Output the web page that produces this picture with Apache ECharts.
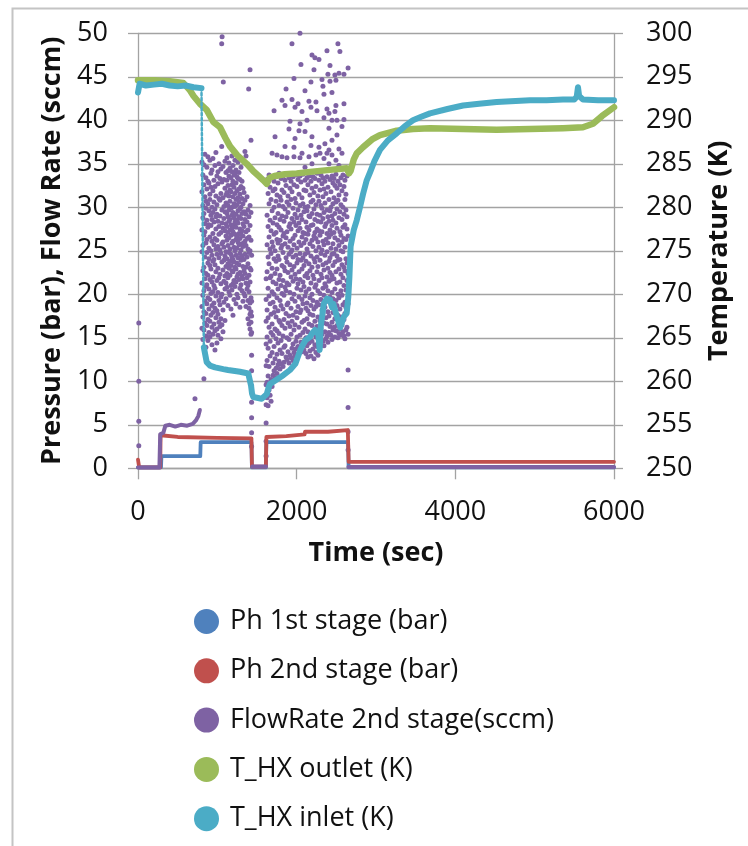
<!DOCTYPE html>
<html>
<head>
<meta charset="utf-8">
<script src="https://cdn.jsdelivr.net/npm/echarts@6/dist/echarts.min.js"></script>
<style>
  html, body { margin: 0; padding: 0; background: #ffffff; }
  #chart { width: 748px; height: 846px; }
</style>
</head>
<body>
<div id="chart"></div>
<script>
// ---- Series names ----
const seriesNames = [
  'Ph 1st stage (bar)',
  'Ph 2nd stage (bar)',
  'FlowRate 2nd stage(sccm)',
  'T_HX outlet (K)',
  'T_HX inlet (K)'
];

// ---- Pressure traces [time s, bar] ----
const ph1stStage = [
  [0, 0.1], [290, 0.1], [295, 1.4], [785, 1.4], [790, 3.0], [1430, 3.0], [1436, 0.1],
  [1612, 0.1], [1618, 3.0], [2648, 3.0], [2655, 0.1], [6000, 0.1]
];
const ph2ndStage = [
  [0, 1.0], [15, 0.1], [280, 0.1], [285, 3.8], [500, 3.6], [1000, 3.5], [1430, 3.45],
  [1436, 0.2], [1612, 0.2], [1618, 3.6], [1870, 3.7], [1875, 3.9], [2100, 3.9],
  [2105, 4.2], [2395, 4.2], [2400, 4.4], [2645, 4.4], [2655, 0.75], [6000, 0.75]
];

// ---- Flow rate, steady stretches [time s, sccm] ----
const flowSteadyA = [
  [0, 0.1], [270, 0.1], [280, 3.9], [320, 4.1], [345, 4.9], [400, 5.0], [470, 4.8],
  [540, 5.0], [620, 4.9], [690, 5.1], [730, 5.5], [760, 6.0], [780, 6.7]
];
const flowSteadyB = [[1440, 0.2], [1612, 0.2]];
const flowSteadyC = [[2652, 0.15], [6000, 0.15]];

// ---- Flow rate, unsteady stretches: [time s, [sccm readings]] ----
const flowBurstFirst = [
  [806, [35.2, 31.8, 27.4, 24.9, 21.3, 18.6, 16.1]],
  [818, [33.7, 30.2, 28.8, 25.6, 22.7, 19.9, 17.4, 14.8]],
  [831, [34.9, 32.6, 29.3, 26.8, 23.1, 20.4, 18.0, 15.9, 10.3]],
  [843, [36.1, 31.2, 28.1, 27.2, 24.3, 21.8, 19.2, 16.7]],
  [856, [33.4, 30.7, 29.9, 25.9, 22.4, 20.9, 17.8, 15.2, 13.9]],
  [868, [34.6, 32.1, 28.5, 26.3, 24.8, 21.1, 18.9, 16.4]],
  [881, [35.8, 33.0, 30.4, 27.7, 23.6, 22.2, 19.6, 17.1, 14.7]],
  [894, [32.8, 29.6, 28.0, 25.3, 24.1, 20.6, 18.3, 15.6]],
  [906, [35.4, 31.5, 30.9, 26.6, 23.3, 21.7, 19.4, 16.9, 15.1]],
  [919, [33.9, 32.3, 29.1, 27.9, 25.0, 22.9, 20.1, 17.6]],
  [932, [34.3, 30.0, 28.6, 26.1, 24.5, 21.4, 18.7, 16.2, 14.2]],
  [944, [35.6, 31.9, 29.4, 27.0, 23.8, 22.0, 20.3, 17.9, 15.4]],
  [957, [33.1, 30.6, 28.3, 25.7, 24.0, 21.0, 19.0, 16.6]],
  [970, [34.8, 32.4, 29.8, 26.4, 23.4, 20.7, 18.4, 15.8, 13.6]],
  [982, [36.3, 31.3, 28.9, 27.5, 25.2, 22.6, 19.8, 17.3]],
  [995, [33.6, 30.3, 29.2, 26.2, 24.6, 21.6, 18.1, 16.0, 14.4]],
  [1008, [34.1, 32.7, 28.4, 25.5, 23.0, 20.2, 17.7, 15.3]],
  [1020, [35.0, 31.0, 27.8, 26.9, 24.2, 21.9, 19.3, 16.8]],
  [1033, [33.3, 30.8, 29.0, 25.1, 22.3, 18.8, 16.3]],
  [1045, [34.4, 31.6, 27.1, 24.7, 21.2, 19.7, 17.2, 14.9]],
  [1058, [32.9, 29.7, 28.2, 25.8, 23.7, 20.0, 16.5]],
  [1071, [34.7, 31.1, 27.6, 26.0, 22.8, 18.2, 15.7]],
  [1083, [33.2, 30.1, 28.7, 25.4, 23.9, 21.5, 19.1]],
  [1096, [35.3, 32.2, 29.5, 27.3, 24.4, 22.1, 20.6, 17.0]],
  [1109, [34.0, 31.4, 30.5, 28.1, 26.7, 24.9, 23.2, 21.3, 19.5]],
  [1121, [35.7, 33.1, 31.7, 29.3, 27.8, 26.2, 24.1, 22.4, 20.8]],
  [1134, [34.2, 32.5, 30.2, 28.9, 27.1, 25.6, 23.5, 21.9, 18.7]],
  [1146, [35.1, 33.6, 31.3, 29.7, 28.4, 26.5, 24.8, 23.0, 20.3]],
  [1159, [34.5, 32.0, 30.7, 28.6, 27.4, 25.2, 23.8, 22.2, 19.9]],
  [1172, [33.4, 31.8, 29.9, 28.0, 26.8, 24.6, 23.3, 21.0, 18.3]],
  [1184, [35.9, 34.1, 32.6, 30.0, 29.1, 27.6, 25.9, 24.3, 22.7, 20.5]],
  [1197, [34.8, 33.0, 31.2, 29.4, 27.2, 26.1, 24.0, 22.6, 21.2, 17.6]],
  [1210, [33.7, 32.3, 30.4, 28.8, 27.9, 25.4, 23.7, 21.6, 19.4]],
  [1222, [35.4, 33.9, 31.6, 30.1, 28.3, 26.9, 25.0, 23.1, 20.9]],
  [1235, [34.3, 32.8, 30.9, 29.2, 27.7, 26.3, 24.5, 22.9, 21.4, 18.9]],
  [1247, [33.5, 31.9, 30.3, 28.5, 26.6, 25.3, 23.6, 22.0, 20.0]],
  [1260, [35.2, 33.3, 31.1, 29.6, 28.2, 26.0, 24.2, 22.3, 19.6]],
  [1273, [34.0, 32.1, 30.6, 28.9, 27.0, 25.7, 23.4, 21.7]],
  [1285, [33.2, 31.5, 29.8, 27.5, 26.4, 24.7, 22.5, 20.7, 18.5]],
  [1298, [34.6, 32.4, 30.0, 28.7, 26.9, 25.1, 23.9, 21.1]],
  [1311, [33.0, 31.0, 29.3, 27.3, 25.8, 24.4, 22.1, 20.4]],
  [1323, [32.2, 30.4, 28.1, 26.7, 25.5, 23.2, 21.8, 19.2]],
  [1336, [31.7, 29.5, 27.8, 25.9, 24.0, 22.7, 20.1]],
  [1348, [36.4, 30.8, 28.6, 26.1, 24.6, 22.4, 19.8]],
  [1361, [35.9, 29.2, 27.2, 25.6, 23.1, 21.3, 18.6]],
  [1374, [31.2, 28.3, 26.4, 24.3, 21.9, 20.6]],
  [1386, [29.7, 27.4, 25.2, 23.5, 21.0, 19.3, 17.2]],
  [1399, [28.9, 26.6, 24.8, 22.2, 20.3, 18.4, 16.6]],
  [1412, [45.8, 30.2, 27.9, 25.0, 23.0, 21.4, 19.0, 17.7, 16.0]],
  [1424, [37.7, 29.4, 26.2, 22.8, 19.6, 18.0, 16.8, 15.4]],
  [1432, [24.5, 19.2, 17.5, 15.6, 13.0, 11.2, 9.5, 7.6, 5.8, 4.1, 2.5]]
];
const flowBurstSecond = [
  [1615, [21.8, 19.4, 16.9, 14.3, 11.8, 9.6, 7.3, 5.2, 3.1, 1.4]],
  [1627, [33.2, 29.1, 25.7, 22.6, 18.2, 15.1, 12.4, 9.9, 8.1]],
  [1640, [31.6, 27.8, 24.3, 20.7, 17.3, 13.8, 10.6, 7.2]],
  [1652, [33.7, 30.4, 26.6, 23.5, 19.8, 16.2, 11.7, 9.0]],
  [1665, [32.3, 28.5, 25.2, 21.9, 18.9, 14.6, 12.9, 8.4]],
  [1677, [30.9, 27.3, 24.7, 22.1, 17.7, 15.6, 10.2, 7.7]],
  [1690, [36.2, 33.4, 29.6, 26.0, 23.0, 20.3, 16.6, 13.3, 9.4]],
  [1702, [31.9, 28.2, 25.5, 21.4, 19.1, 15.3, 12.1, 10.7]],
  [1715, [41.1, 33.0, 30.0, 26.9, 24.1, 20.0, 17.9, 14.0, 11.2]],
  [1727, [38.1, 32.1, 28.8, 25.0, 22.4, 18.5, 16.0, 12.6, 10.4]],
  [1740, [33.5, 30.7, 27.1, 23.8, 21.2, 17.4, 14.9, 11.5]],
  [1752, [36.0, 31.4, 28.0, 26.3, 22.9, 19.6, 15.8, 13.1, 10.9]],
  [1765, [32.8, 29.3, 25.9, 24.4, 20.6, 18.1, 14.4, 11.9]],
  [1778, [33.9, 30.2, 27.7, 24.0, 21.7, 17.0, 15.5, 12.3]],
  [1790, [31.2, 28.6, 26.2, 22.2, 19.3, 16.8, 13.6, 11.4]],
  [1803, [33.3, 30.8, 27.4, 25.3, 21.0, 18.7, 14.7, 12.0]],
  [1815, [42.3, 35.8, 32.0, 29.0, 25.6, 23.3, 20.1, 16.4, 13.2]],
  [1828, [33.6, 30.1, 26.7, 24.8, 21.6, 18.3, 15.2, 11.7]],
  [1840, [31.7, 28.4, 27.0, 23.1, 19.9, 17.1, 13.9, 12.2]],
  [1853, [41.7, 37.0, 33.1, 29.8, 25.8, 22.7, 20.8, 16.1, 14.1]],
  [1866, [43.6, 32.5, 28.9, 26.5, 24.2, 20.4, 17.8, 12.8]],
  [1878, [35.7, 33.8, 30.6, 27.2, 23.7, 21.3, 18.8, 15.0, 12.5]],
  [1891, [31.3, 29.4, 25.4, 22.5, 19.0, 16.7, 13.4]],
  [1903, [39.0, 33.4, 30.3, 27.8, 24.6, 21.1, 17.5, 14.8, 12.1]],
  [1916, [39.9, 32.2, 28.1, 26.1, 23.4, 20.2, 16.3, 13.0]],
  [1929, [33.0, 30.9, 27.5, 24.9, 22.0, 18.4, 15.4, 12.7]],
  [1941, [48.8, 42.4, 31.8, 28.7, 25.1, 22.8, 19.5, 16.9, 13.8]],
  [1954, [33.5, 29.9, 26.4, 24.3, 21.5, 17.6, 14.3, 12.4]],
  [1966, [44.8, 36.9, 35.8, 32.6, 28.3, 25.7, 23.2, 20.0, 15.9, 13.3]],
  [1979, [41.5, 37.9, 31.0, 29.2, 26.8, 22.3, 19.2, 16.5, 12.9]],
  [1991, [33.7, 30.5, 27.9, 24.5, 21.8, 18.0, 14.6, 13.7]],
  [2004, [32.4, 28.8, 25.3, 23.6, 20.7, 17.3, 15.1, 12.6]],
  [2017, [41.9, 33.2, 29.7, 27.3, 24.0, 21.2, 18.6, 14.0, 13.1]],
  [2029, [38.8, 31.5, 28.2, 26.0, 22.6, 19.7, 16.2, 13.9]],
  [2042, [50.0, 39.6, 35.7, 33.6, 30.2, 27.6, 24.7, 21.7, 17.9, 15.3]],
  [2054, [46.4, 32.9, 29.1, 25.6, 23.9, 20.5, 18.2, 14.5]],
  [2067, [41.0, 36.2, 31.1, 28.6, 26.6, 22.9, 19.4, 16.8, 13.4]],
  [2079, [33.8, 30.4, 27.1, 24.2, 21.4, 18.9, 15.6, 14.2]],
  [2092, [32.0, 29.5, 25.9, 23.3, 20.9, 17.0, 13.6]],
  [2105, [43.4, 38.7, 34.6, 33.1, 30.0, 27.0, 24.6, 22.1, 19.8, 16.0, 14.8]],
  [2117, [31.9, 28.3, 26.3, 23.8, 20.3, 18.4, 15.0, 13.2]],
  [2130, [40.0, 33.4, 29.6, 27.7, 25.2, 22.4, 19.0, 17.2, 14.1]],
  [2142, [32.6, 30.1, 26.9, 24.8, 21.9, 18.1, 15.7, 12.8]],
  [2155, [42.2, 35.8, 33.6, 29.0, 27.4, 23.5, 20.6, 16.6, 14.4]],
  [2167, [31.4, 28.9, 25.8, 22.7, 19.6, 17.7, 13.5]],
  [2180, [44.4, 41.5, 37.1, 33.0, 30.6, 27.9, 24.4, 21.3, 18.7, 15.2, 12.9]],
  [2193, [47.5, 38.1, 35.0, 32.2, 29.3, 26.2, 23.1, 20.0, 16.4, 14.6]],
  [2205, [33.5, 30.8, 28.0, 25.5, 22.2, 19.3, 17.6, 13.7]],
  [2218, [45.8, 31.7, 29.8, 26.7, 24.1, 21.8, 18.3, 15.5, 12.6]],
  [2230, [47.2, 33.3, 28.6, 27.1, 23.7, 20.8, 16.9, 14.2]],
  [2243, [42.1, 36.0, 32.4, 30.3, 26.4, 25.0, 21.1, 18.6, 15.1, 13.3]],
  [2256, [41.1, 33.9, 29.2, 27.5, 24.3, 22.6, 19.1, 16.3, 14.0]],
  [2268, [31.3, 28.4, 26.0, 23.2, 20.4, 17.4, 13.0]],
  [2281, [47.0, 36.9, 33.1, 30.7, 27.3, 25.4, 21.6, 18.8, 15.8, 14.3]],
  [2294, [36.2, 32.0, 29.1, 26.8, 23.9, 20.1, 17.0, 14.7]],
  [2306, [33.7, 30.2, 28.3, 24.7, 22.3, 19.4, 16.1, 14.9]],
  [2319, [44.7, 32.7, 29.9, 27.2, 25.1, 21.9, 18.2, 15.4]],
  [2331, [43.9, 33.4, 31.2, 28.7, 26.1, 23.4, 20.7, 17.8, 14.6]],
  [2344, [43.0, 40.3, 35.6, 32.1, 29.4, 25.7, 22.8, 19.9, 16.7, 14.1]],
  [2356, [37.3, 33.0, 30.5, 27.8, 24.5, 21.2, 18.5, 15.7]],
  [2369, [31.6, 28.1, 26.3, 23.6, 20.9, 17.3, 14.9]],
  [2382, [48.0, 41.3, 36.2, 33.5, 29.7, 27.0, 24.9, 22.0, 19.2, 16.6, 15.2]],
  [2394, [45.3, 32.3, 28.9, 25.9, 23.0, 20.4, 18.0, 14.5]],
  [2407, [40.8, 39.1, 36.6, 35.0, 30.9, 28.4, 26.6, 23.8, 21.5, 17.5, 15.6]],
  [2420, [46.3, 44.5, 33.2, 29.6, 27.4, 24.2, 22.5, 19.7, 16.3]],
  [2432, [31.8, 30.0, 26.9, 25.3, 21.7, 18.9, 15.3]],
  [2445, [43.2, 40.0, 37.7, 36.0, 33.6, 29.0, 27.9, 24.6, 22.2, 20.2, 16.8, 14.8]],
  [2457, [32.8, 30.4, 28.5, 25.8, 23.3, 19.5, 17.9, 15.9]],
  [2470, [33.3, 31.1, 27.1, 24.7, 21.8, 18.4, 16.2]],
  [2482, [45.2, 41.0, 32.5, 29.3, 26.5, 23.7, 20.6, 17.2, 15.1]],
  [2495, [44.6, 41.7, 35.4, 33.8, 30.6, 28.2, 25.2, 22.6, 19.3, 15.8]],
  [2508, [40.0, 38.3, 32.2, 29.8, 27.6, 24.4, 21.3, 18.7, 16.4]],
  [2520, [48.8, 33.0, 30.8, 26.2, 23.9, 20.0, 17.6, 15.0]],
  [2533, [45.4, 36.7, 34.8, 31.4, 28.8, 25.6, 22.9, 19.6, 16.9, 15.5]],
  [2545, [47.9, 32.6, 29.5, 27.2, 24.0, 21.4, 18.3, 16.0]],
  [2558, [33.4, 30.3, 26.8, 25.0, 22.3, 20.4, 17.4, 15.3]],
  [2571, [39.3, 36.2, 31.9, 28.6, 26.0, 23.4, 19.9, 16.5]],
  [2583, [33.7, 30.0, 27.7, 24.9, 21.9, 18.8, 15.7]],
  [2596, [45.3, 41.9, 40.1, 32.4, 29.2, 26.4, 23.1, 21.0, 17.1, 15.2]],
  [2608, [33.1, 30.9, 28.0, 25.4, 22.7, 19.1, 17.8, 14.9]],
  [2621, [31.5, 29.7, 26.3, 24.1, 20.5, 18.5, 15.9]],
  [2634, [33.6, 28.9, 27.5, 23.6, 21.6, 19.0, 16.2]],
  [2648, [46.0, 26.7, 22.4, 18.9, 15.4, 11.3, 7.0, 4.2, 2.1]]
];
// isolated readings outside the bursts [time s, sccm]
const flowSpikes = [
  [10, 16.7], [10, 10.0], [10, 5.4], [10, 2.6], [718, 8.0],
  [1060, 49.6], [1055, 48.8], [1075, 44.4], [1395, 43.6], [1055, 37.0]
];

// ---- Heat exchanger temperatures [time s, K] ----
const outletTemp = [
  [0, 294.6], [200, 294.6], [400, 294.5], [570, 294.3], [650, 293.5], [700, 292.8],
  [781, 291.9], [866, 291.2], [950, 289.8], [1034, 289.2], [1100, 288.0], [1160, 287.0],
  [1250, 286.0], [1370, 285.0], [1450, 284.2], [1520, 283.6], [1580, 283.1], [1622, 282.7],
  [1660, 283.4], [1720, 283.6], [1850, 283.8], [2000, 283.9], [2200, 284.1], [2420, 284.3],
  [2630, 284.5], [2660, 283.9], [2680, 284.2], [2720, 285.5], [2757, 286.2], [2836, 286.9],
  [2950, 287.8], [3050, 288.3], [3261, 288.8], [3466, 289.0], [3681, 289.1], [4100, 289.0],
  [4521, 288.9], [4941, 289.0], [5357, 289.1], [5609, 289.2], [5735, 289.6], [5850, 290.5],
  [6000, 291.5]
];
const inletTempWarm = [
  [0, 293.2], [20, 294.2], [100, 294.0], [200, 294.1], [300, 294.2], [400, 294.0],
  [500, 293.9], [600, 294.0], [700, 293.8], [800, 293.7]
];
const inletTempDrop = [[800, 293.7], [830, 263.9]];
const inletTempCold = [
  [830, 263.9], [866, 262.2], [908, 261.8], [971, 261.6], [1075, 261.4], [1134, 261.3],
  [1286, 261.1], [1390, 260.9], [1412, 260.8], [1425, 259.5], [1437, 258.6], [1453, 258.2],
  [1475, 258.2], [1559, 258.0], [1579, 258.0], [1622, 258.5], [1647, 259.3], [1664, 259.7],
  [1731, 260.1], [1748, 260.3], [1832, 260.7], [1857, 260.9], [1916, 261.3], [1983, 262.0],
  [2000, 262.2], [2046, 263.6], [2084, 264.3], [2109, 264.7], [2168, 265.1], [2193, 265.5],
  [2231, 265.9], [2250, 266.0], [2272, 265.4], [2290, 263.6], [2302, 266.2], [2320, 267.4],
  [2341, 268.9], [2382, 269.5], [2420, 269.4], [2445, 268.5], [2462, 268.9], [2508, 267.4],
  [2525, 267.4], [2550, 266.2], [2593, 267.4], [2630, 267.8], [2651, 269.7], [2665, 272.0],
  [2680, 275.5], [2720, 277.4], [2757, 278.5], [2798, 280.0], [2836, 281.5], [2883, 283.1],
  [2924, 284.0], [2980, 285.3], [3050, 286.6], [3150, 287.7], [3261, 288.5], [3360, 289.3],
  [3466, 290.0], [3570, 290.4], [3681, 290.8], [3900, 291.3], [4097, 291.7], [4300, 291.9],
  [4521, 292.1], [4700, 292.2], [4941, 292.3], [5150, 292.3], [5357, 292.4], [5500, 292.4],
  [5530, 292.7], [5546, 293.8], [5560, 292.8], [5609, 292.4], [5800, 292.3], [6000, 292.3]
];

// ---- Colours ----
const colBlue = '#4F81BD';
const colRed = '#C0504D';
const colPurple = '#7E62A3';
const colGreen = '#9BBB59';
const colTeal = '#4BACC6';

// flatten [t, [v...]] groups into scatter points
function expand(groups) {
  const out = [];
  groups.forEach(function (g) {
    g[1].forEach(function (v) { out.push([g[0], v]); });
  });
  return out;
}
const flowScatter = expand(flowBurstFirst).concat(expand(flowBurstSecond), flowSpikes);

const FONT = '"Open Sans", "Noto Sans", sans-serif';
const gridColor = '#a3a3a3';

function lineSeries(name, data, color, width, yIdx, dashed) {
  return {
    name: name, type: 'line', data: data, yAxisIndex: yIdx || 0,
    showSymbol: false, symbol: 'circle', animation: false, silent: true,
    lineStyle: { color: color, width: width, type: dashed ? 'dotted' : 'solid', cap: 'round', join: 'round' },
    itemStyle: { color: color }
  };
}

const chart = echarts.init(document.getElementById('chart'), null, { renderer: 'canvas' });

chart.setOption({
  backgroundColor: '#ffffff',
  animation: false,
  textStyle: { fontFamily: FONT },
  graphic: [{
    type: 'rect', left: 10, top: 6, silent: true,
    shape: { width: 760, height: 839 },
    style: { fill: 'none', stroke: '#c4c4c4', lineWidth: 2 }
  }],
  grid: { left: 138, right: 134, top: 33.3, bottom: 377.7 },
  legend: {
    orient: 'vertical', left: 194, top: 608, padding: 0,
    itemWidth: 25, itemHeight: 25, itemGap: 22.3, icon: 'circle',
    data: seriesNames.map(function (n, i) {
      return { name: n, itemStyle: { color: [colBlue, colRed, colPurple, colGreen, colTeal][i] } };
    }),
    textStyle: { fontFamily: FONT, fontSize: 27, color: '#111', lineHeight: 27, padding: [0, 0, 0, 6] }
  },
  xAxis: {
    type: 'value', min: 0, max: 6000, interval: 2000,
    name: 'Time (sec)', nameLocation: 'middle', nameGap: 72,
    nameTextStyle: { fontFamily: FONT, fontSize: 27, fontWeight: 'bold', color: '#111' },
    axisLine: { show: true, onZero: false, lineStyle: { color: gridColor, width: 1.3 } },
    axisTick: { show: true, inside: false, length: 11, lineStyle: { color: gridColor, width: 1.3 } },
    axisLabel: {
      fontFamily: FONT, fontSize: 27, color: '#111', margin: 31,
      formatter: function (v) { return String(v); }
    },
    splitLine: { show: false }
  },
  yAxis: [{
    type: 'value', min: 0, max: 50, interval: 5, position: 'left',
    name: 'Pressure (bar), Flow Rate (sccm)', nameLocation: 'middle', nameRotate: 90, nameGap: 72,
    nameTextStyle: { fontFamily: FONT, fontSize: 27, fontWeight: 'bold', color: '#111' },
    axisLine: { show: true, lineStyle: { color: gridColor, width: 1.3 } },
    axisTick: { show: true, inside: false, length: 10, lineStyle: { color: gridColor, width: 1.3 } },
    axisLabel: { fontFamily: FONT, fontSize: 27, color: '#111', margin: 30 },
    splitLine: { show: true, lineStyle: { color: gridColor, width: 1.3 } }
  }, {
    type: 'value', min: 250, max: 300, interval: 5, position: 'right',
    name: 'Temperature (K)', nameLocation: 'middle', nameRotate: 90, nameGap: 92,
    nameTextStyle: { fontFamily: FONT, fontSize: 27, fontWeight: 'bold', color: '#111' },
    axisLine: { show: true, lineStyle: { color: gridColor, width: 1.3 } },
    axisTick: { show: true, inside: false, length: 9, lineStyle: { color: gridColor, width: 1.3 } },
    axisLabel: { fontFamily: FONT, fontSize: 27, color: '#111', margin: 32 },
    splitLine: { show: false }
  }],
  series: [
    lineSeries(seriesNames[0], ph1stStage, colBlue, 3.8, 0),
    lineSeries(seriesNames[1], ph2ndStage, colRed, 3.8, 0),
    lineSeries(seriesNames[2], flowSteadyA, colPurple, 4, 0),
    lineSeries(seriesNames[2], flowSteadyB, colPurple, 4, 0),
    lineSeries(seriesNames[2], flowSteadyC, colPurple, 4, 0),
    {
      name: seriesNames[2], type: 'scatter', data: flowScatter, yAxisIndex: 0,
      symbol: 'circle', symbolSize: 5, animation: false, silent: true,
      itemStyle: { color: colPurple, opacity: 1 }
    },
    lineSeries(seriesNames[3], outletTemp, colGreen, 6.5, 1),
    lineSeries(seriesNames[4], inletTempWarm, colTeal, 6, 1),
    lineSeries(seriesNames[4], inletTempDrop, colTeal, 2.5, 1, true),
    lineSeries(seriesNames[4], inletTempCold, colTeal, 6, 1)
  ]
});
</script>
</body>
</html>
